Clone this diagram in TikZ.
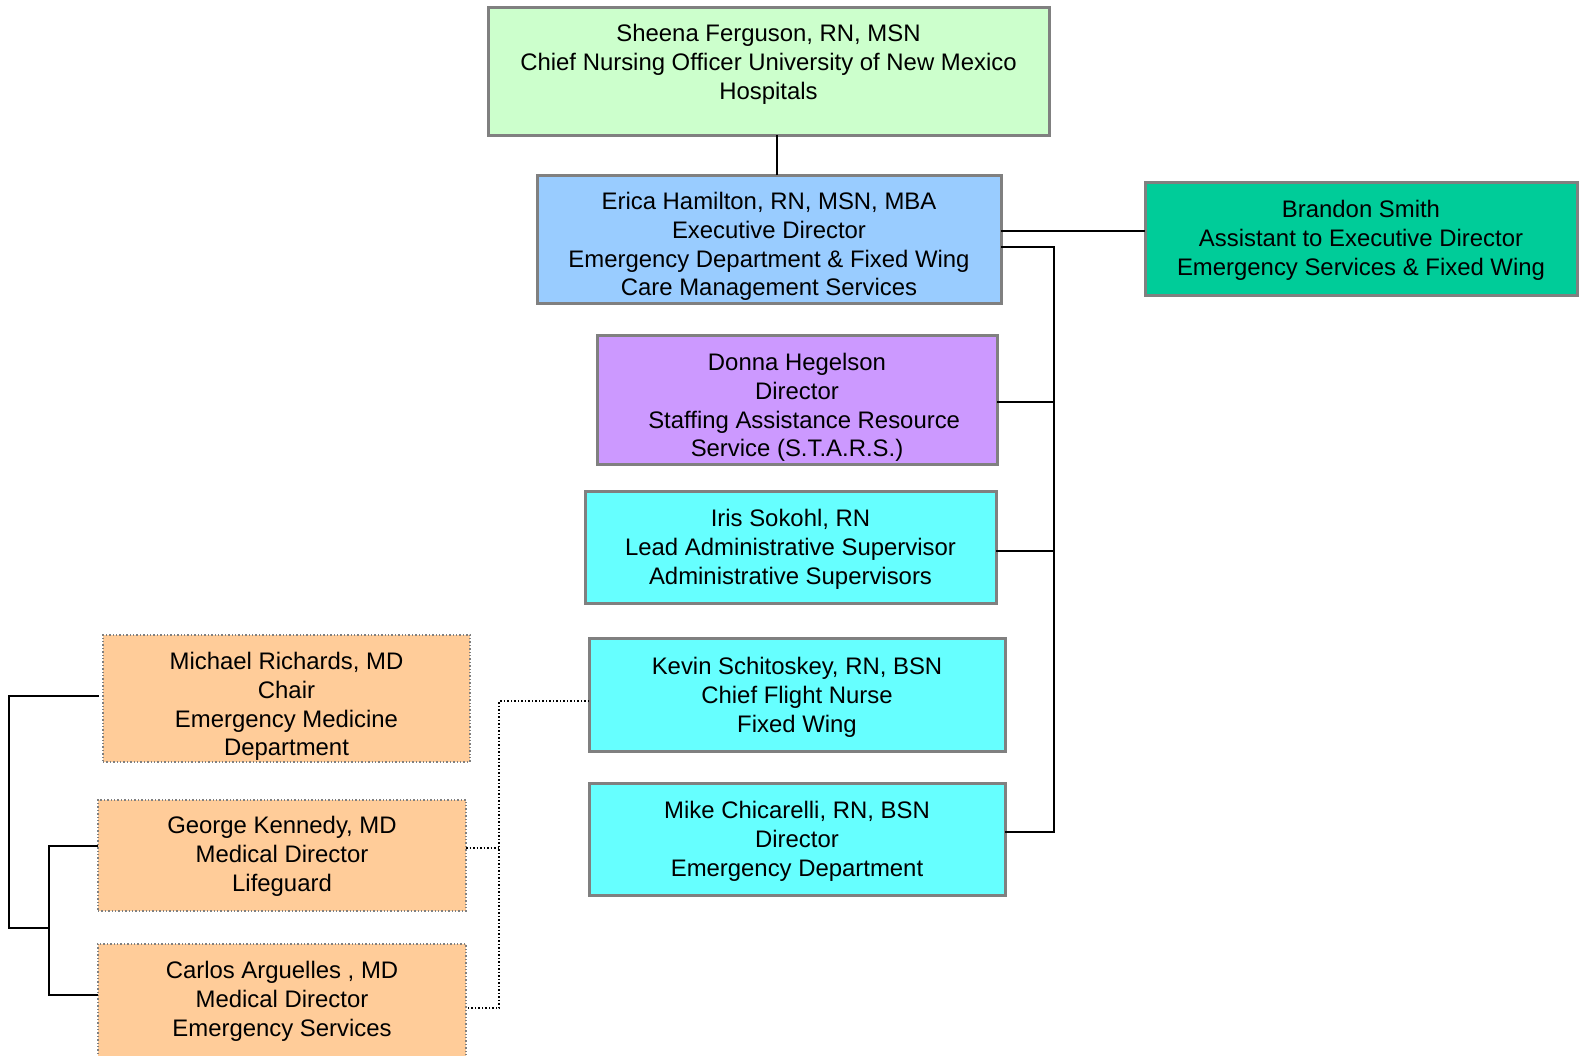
\documentclass[tikz,border=0pt]{standalone}
\usepackage{fontspec}
\setmainfont{Liberation Sans}
\definecolor{cgreen}{HTML}{CCFFCC}
\definecolor{cblue}{HTML}{99CCFF}
\definecolor{cteal}{HTML}{00CC99}
\definecolor{cviolet}{HTML}{CC99FF}
\definecolor{ccyan}{HTML}{66FFFF}
\definecolor{corange}{HTML}{FFCC99}
\definecolor{cborder}{HTML}{808080}
\begin{document}
\begin{tikzpicture}[x=1pt,y=-1pt,
  box/.style={draw=cborder,line width=3pt,inner sep=0pt,outer sep=0pt},
  dbox/.style={draw=cborder,line width=1.4pt,dotted,inner sep=0pt,outer sep=0pt},
  txt/.style={align=center,inner sep=0pt,yshift=-2.5pt,font=\fontsize{23.9}{28.7}\selectfont},
  conn/.style={line width=2pt,black},
  dconn/.style={line width=1.5pt,black,dotted}]
\useasboundingbox (0,0) rectangle (1579,1055);
% boxes
\node[box,fill=cgreen,minimum width=561pt,minimum height=128pt] (cno) at (768.5,71) {};
\node[txt] (cnot) at (768.5,62) {Sheena Ferguson, RN, MSN\\Chief Nursing Officer University of New Mexico\\Hospitals};
\node[box,fill=cblue,minimum width=464pt,minimum height=128pt] (eh) at (769,239) {};
\node[txt] (eht) at (769,244) {Erica Hamilton, RN, MSN, MBA\\Executive Director\\Emergency Department \& Fixed Wing\\Care Management Services};
\node[box,fill=cteal,minimum width=432pt,minimum height=113pt] (bs) at (1361,238.5) {};
\node[txt] (bst) at (1361,238) {Brandon Smith\\Assistant to Executive Director\\Emergency Services \& Fixed Wing};
\node[box,fill=cviolet,minimum width=400pt,minimum height=129pt] (dh) at (797,399.5) {};
\node[txt] (dht) at (797,405) {Donna Hegelson\\Director\\\hspace*{0.6em}Staffing Assistance Resource\\Service (S.T.A.R.S.)};
\node[box,fill=ccyan,minimum width=411pt,minimum height=112pt] (is) at (790.5,547) {};
\node[txt] (ist) at (790.5,547) {Iris Sokohl, RN\\Lead Administrative Supervisor\\Administrative Supervisors};
\node[box,fill=ccyan,minimum width=416pt,minimum height=113pt] (ks) at (797,694.5) {};
\node[txt] (kst) at (797,695) {Kevin Schitoskey, RN, BSN\\Chief Flight Nurse\\Fixed Wing};
\node[box,fill=ccyan,minimum width=416pt,minimum height=112pt] (mc) at (797,839) {};
\node[txt] (mct) at (797,839) {Mike Chicarelli, RN, BSN\\Director\\Emergency Department};
\node[dbox,fill=corange,minimum width=367pt,minimum height=127pt] (mr) at (286.5,698.5) {};
\node[txt] (mrt) at (286.5,704) {Michael Richards, MD\\Chair\\Emergency Medicine\\Department};
\node[dbox,fill=corange,minimum width=368pt,minimum height=111pt] (gk) at (282,855.5) {};
\node[txt] (gkt) at (282,854) {George Kennedy, MD\\Medical Director\\Lifeguard};
\node[dbox,fill=corange,minimum width=368pt,minimum height=114pt] (ca) at (282,1001) {};
\node[txt] (cat) at (282,999) {Carlos Arguelles , MD\\Medical Director\\Emergency Services};
% right side connectors
\coordinate (top) at (777,0);
\coordinate (bus) at (1054,247);
\coordinate (busend) at (1054,832);
\draw[conn] (cno.south -| top) -- (eh.north -| top);
\draw[conn] (eh.east |- 0,231) -- (bs.west |- 0,231);
\draw[conn] (eh.east |- bus) -- (bus) -- (busend) -- (mc.east |- busend);
\draw[conn] (dh.east |- 0,402) -- (bus |- 0,402);
\draw[conn] (is.east |- 0,551) -- (bus |- 0,551);
% dotted connectors
\coordinate (dv) at (499,701);
\coordinate (dvend) at (499,1008);
\draw[dconn] (ks.west |- dv) -- (dv) -- (dvend) -- (ca.east |- dvend);
\draw[dconn] (gk.east |- 0,848) -- (dv |- 0,848);
% left bracket
\coordinate (lv) at (9,696);
\coordinate (lvend) at (9,928);
\coordinate (lv2) at (49,846);
\coordinate (lv2end) at (49,995);
\draw[conn] ([xshift=-4pt]mr.west |- lv) -- (lv) -- (lvend) -- (lvend -| lv2);
\draw[conn] (gk.west |- lv2) -- (lv2) -- (lv2end) -- (ca.west |- lv2end);
\end{tikzpicture}
\end{document}
